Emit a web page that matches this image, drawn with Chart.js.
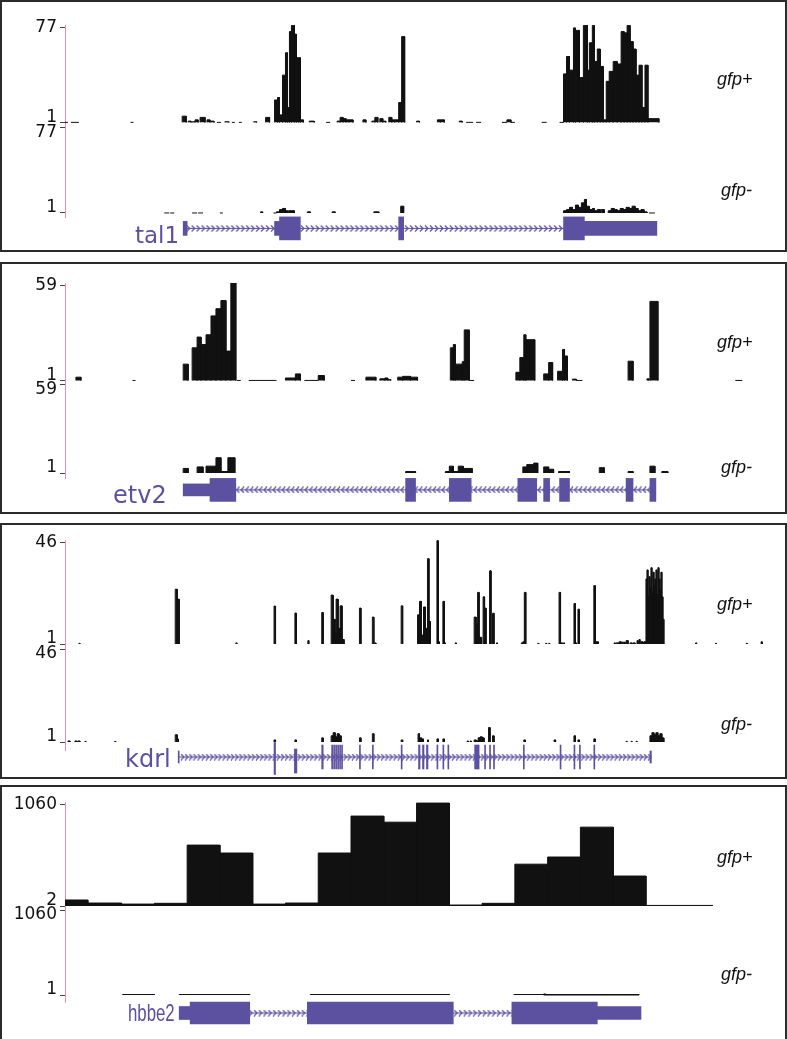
<!DOCTYPE html>
<html>
<head>
<meta charset="utf-8">
<script src="https://cdn.jsdelivr.net/npm/chart.js@4.4.1/dist/chart.umd.min.js"></script>
<style>
  body { margin: 0; width: 787px; height: 1039px; background: #fff; position: relative; overflow: hidden; font-family: "Liberation Sans", Arial, sans-serif; }
  .panel { position: absolute; left: 0; width: 787px; }
  .panel canvas { position: absolute; left: 0; top: 0; }
  .frame { position: absolute; left: 0; top: 0; width: 787px; height: 100%; box-sizing: border-box; border: 2px solid #2b2b2b; pointer-events: none; }
  .trk { position: absolute; font-style: italic; font-size: 18px; line-height: 18px; color: #111; }
  .gname { position: absolute; font-family: "DejaVu Sans"; line-height: 1; color: #5c50a0; white-space: nowrap; }
</style>
</head>
<body>
<script>
// positions are browser columns (x scale runs from the axis line to the right edge)
// coverage segments: [start, end, value]

// --- tal1 ---
const tal1Range = [1, 77];
const tal1Plus = [
  [63, 68, 1], [71, 79, 1], [131, 134, 1],
  [183, 187, 6], [189, 192, 2], [193, 196, 1.5], [196, 199, 3], [201, 206, 5], [208, 211, 3], [212, 215, 2],
  [218, 222, 1], [226, 230, 1.5], [233, 236, 1], [240, 243, 1], [255, 258, 1.5], [267, 271, 5],
  [276, 279, 19], [279, 281, 21], [281, 284, 7], [284, 287, 39], [287, 289, 57], [289, 291, 13], [291, 293, 74],
  [293, 296, 79], [296, 298, 72], [298, 300, 53], [300, 302, 53], [302, 305, 3],
  [311, 316, 2], [328, 332, 1], [339, 342, 2], [342, 345, 5], [345, 348, 4], [348, 351, 3], [351, 355, 3],
  [365, 368, 3], [374, 377, 2], [377, 380, 5], [382, 385, 4], [385, 388, 2], [391, 394, 5], [394, 397, 3],
  [397, 401, 3], [401, 404, 17], [404, 407, 70],
  [419, 422, 2], [440, 443, 3], [443, 447, 3], [462, 465, 2], [469, 476, 1], [479, 484, 1], [505, 510, 1],
  [510, 514, 3], [514, 518, 1], [545, 550, 1], [563, 567, 1],
  [567, 570, 40], [570, 573, 54], [573, 577, 43], [577, 579, 77], [579, 583, 75], [583, 587, 37], [587, 591, 79],
  [591, 593, 43], [593, 596, 65], [596, 598, 79], [598, 601, 50], [601, 604, 60], [604, 607, 46], [607, 610, 3],
  [610, 613, 34], [613, 617, 42], [617, 621, 50], [621, 625, 48], [625, 628, 74], [628, 631, 73], [631, 634, 79],
  [634, 637, 66], [637, 640, 60], [640, 643, 39], [643, 646, 47], [646, 649, 13], [649, 652, 47], [652, 663, 4]
];
const tal1Minus = [
  [165, 170, 1], [171, 175, 1], [193, 198, 1], [199, 204, 1], [221, 224, 1],
  [262, 264, 2], [275, 278, 1], [278, 281, 2], [281, 284, 4], [284, 287, 5], [287, 289, 3], [290, 293, 3],
  [293, 296, 3], [309, 312, 2], [334, 337, 2], [376, 381, 2], [403, 406, 7],
  [567, 570, 3], [570, 573, 4], [573, 576, 6], [576, 579, 4], [579, 582, 8], [582, 585, 6], [585, 588, 10],
  [588, 590, 13], [590, 593, 7], [593, 596, 4], [596, 598, 5], [598, 601, 3], [601, 604, 4], [605, 608, 4],
  [612, 615, 3], [615, 618, 5], [618, 621, 4], [621, 624, 3], [624, 627, 5], [627, 630, 4], [630, 633, 6],
  [633, 636, 5], [636, 639, 7], [639, 642, 5], [642, 645, 3], [645, 648, 4], [648, 651, 2], [653, 659, 1]
];
const tal1Cds = [[281, 302], [401, 406], [567, 588]];
const tal1Utr = [[184, 188], [276, 281], [588, 661]];
const tal1Span = [184, 661];

// --- etv2 ---
const etv2Range = [1, 59];
const etv2Plus = [
  [76, 81, 3], [133, 136, 1], [184, 189, 11], [193, 198, 21], [198, 202, 27.6], [202, 207, 23], [207, 212, 29],
  [212, 217, 40.6], [217, 222, 45], [222, 227, 50], [227, 232, 19], [232, 237, 61], [238, 242, 1],
  [250, 278, 1], [287, 297, 2.5], [297, 302, 5], [306, 320, 1], [320, 326, 4], [353, 357, 1], [368, 378, 3],
  [382, 387, 2], [387, 390, 2.5], [390, 393, 1.5], [400, 405, 3], [405, 413, 3.5], [413, 420, 3],
  [453, 456, 21], [456, 458, 23], [458, 465, 11], [465, 467, 12.5], [467, 472, 32], [472, 477, 1],
  [519, 523, 6], [523, 527, 15], [527, 529, 29], [529, 538, 26], [547, 552, 5], [552, 556, 12],
  [561, 566, 6.6], [566, 568, 20], [568, 571, 16], [576, 580, 1.8], [580, 586, 1], [632, 637, 12.8],
  [651, 653, 2], [654, 662, 49.5], [740, 747, 1]
];
const etv2Minus = [
  [184, 189, 4], [198, 204, 5], [207, 217, 5.5], [217, 222, 11], [222, 229, 2], [229, 236, 11],
  [408, 418, 2], [448, 452, 2], [452, 456, 5.5], [456, 461, 2], [461, 466, 5.5], [466, 475, 4],
  [526, 530, 5], [530, 537, 6.5], [537, 541, 7.5], [547, 552, 5], [552, 557, 3.5], [562, 573, 2],
  [603, 608, 4.5], [632, 637, 2], [654, 659, 5.5], [666, 672, 2]
];
const etv2Cds = [[211, 237], [408, 418], [452, 474], [521, 540], [547, 553], [563, 573], [630, 637], [654, 660]];
const etv2Utr = [[184, 211]];
const etv2Span = [184, 660];

// --- kdrl ---
const kdrlRange = [1, 46];
const kdrlPlus = [
  [79, 80, 1.3], [176, 178, 25.4], [178, 180, 21], [237, 238, 1.5],
  [275.5, 277, 17.9], [296.5, 298, 14.8], [309.5, 310.5, 2.5], [323.5, 325, 15], [333, 335, 22.8], [335, 337, 12],
  [337, 338, 6], [338, 340, 21], [340, 342, 8], [342, 344, 18], [344, 346, 3], [361.5, 363, 17], [374.5, 376, 13],
  [377, 378, 1.5], [403.5, 405, 18], [420, 422, 14], [422, 424, 20], [424, 426, 5], [426, 428, 17.5], [428, 430, 8],
  [430, 431.5, 39], [431.5, 433, 11], [439.5, 441, 47], [441, 442, 2], [445.5, 447, 20], [447, 448, 1.5],
  [458, 459, 1.5], [477, 479, 13], [479, 480.5, 10], [480.5, 482, 24], [482, 484.5, 4], [486, 487.5, 22],
  [487.5, 489, 17], [492.5, 494, 33.6], [495.5, 497, 14.7], [499.5, 500.5, 1.5], [524.5, 525.5, 1.5],
  [526, 527.5, 2], [527.5, 529, 24],
  [541, 542, 1.3], [549, 550, 1.3], [552, 553, 1.3], [562.5, 564, 24], [564, 566, 1.5], [567, 568, 1.5],
  [577.5, 579, 19], [579, 580, 1.5], [581.5, 583, 16.5], [597.5, 599, 27], [599, 602, 2], [618, 619, 1.5],
  [620, 623, 1.5], [623, 625, 2], [626, 629, 1.8], [630, 632, 2.5], [634, 636, 1.5], [637, 639, 1.5],
  [641, 642, 2.5], [643, 644, 3], [645, 647, 2], [648, 650, 2],
  [650, 651, 30], [651, 652, 34], [652, 653, 22], [653, 654, 31], [654, 655, 26], [655, 656, 35], [656, 657, 24],
  [657, 658, 33], [658, 659, 27], [659, 660, 30], [660, 661, 34], [661, 662, 23], [662, 663, 35], [663, 664, 30],
  [664, 665, 25], [665, 666, 33], [666, 667, 22], [667, 668, 12],
  [700, 701, 1.5], [720, 721, 1.3], [751, 752, 1.3], [766, 767, 2]
];
const kdrlMinus = [
  [68, 70, 1.5], [75, 77, 1.5], [78, 80, 1.5], [85, 86, 1.3], [115, 116, 1.3], [176, 178, 4.5], [178, 179, 2.5],
  [275.5, 277, 2], [296.5, 298, 2], [323.5, 325, 3], [333, 335, 4], [335, 337, 5.5], [337, 339, 3.5], [339, 341, 5],
  [341, 343, 4], [361.5, 363, 3], [374.5, 376, 5], [403.5, 405, 2], [420.5, 422, 5], [422, 424, 3], [424, 426, 2.5],
  [430, 431, 2], [439.5, 441, 2.5], [445.5, 447, 2.5], [470, 471, 1.5], [473, 474, 1.5], [477, 479, 2],
  [479, 481, 1.5], [481, 483, 3], [483, 485, 3.5], [485, 487, 3], [491.5, 493, 8], [495.5, 497, 4],
  [527, 528.5, 2], [557.5, 559, 2], [577.5, 579, 4], [581.5, 583, 2], [597.5, 599, 2.5], [630, 631, 1.3],
  [635, 636, 1.3], [640, 641, 1.3], [654, 656, 4], [656, 658, 5.5], [658, 660, 4.5], [660, 662, 5.5],
  [662, 664, 4], [664, 666, 5], [666, 668, 3]
];
const kdrlCds = [
  [323.5, 325], [333.5, 334.5], [335.5, 336.5], [337.5, 338.5], [339.5, 340.5], [341.5, 342.5], [343.5, 344.5],
  [361.5, 362.5], [374.5, 375.5], [403.5, 404.5], [421, 422.5], [425, 426.5], [429, 430.5], [439.5, 440.5],
  [445.5, 446.5], [450.5, 451.5], [477.5, 482], [487.5, 488.5], [492.5, 493.5], [496.5, 497.5], [526.5, 527.5],
  [563.5, 564.5], [577.5, 578.5], [583, 584], [597.5, 598.5]
];
const kdrlUtr = [[179, 180], [654, 655.5]];
const kdrlLong = [[275.5, 277]];
const kdrlLower = [[296, 298.5]];
const kdrlSpan = [179, 655];

// --- hbbe2 ---
const hbbe2PlusRange = [2, 1060];
const hbbe2MinusRange = [1, 1060];
const hbbe2Plus = [
  [61, 88, 65], [88, 122, 33], [122, 155, 22], [155, 188, 30], [188, 221, 640], [221, 254, 557],
  [254, 287, 22], [287, 320, 33], [320, 353, 557], [353, 386, 944], [386, 419, 880], [419, 452, 1080],
  [452, 485, 12], [485, 518, 30], [518, 551, 440], [551, 584, 515], [584, 617, 828], [617, 650, 316],
  [650, 717, 8]
];
const hbbe2Minus = [[123, 155, 7], [180, 251, 7], [312, 452, 7], [517, 643, 7], [547, 549, 14]];
const hbbe2Cds = [[191, 251], [309, 456], [515, 601]];
const hbbe2Utr = [[180, 191], [601, 645]];
const hbbe2Span = [180, 645];

const PURPLE = '#5c50a0';
const AXIS_X = 65;

const panels = [
  { name: 'tal1', plusRange: tal1Range, minusRange: tal1Range, plus: tal1Plus, minus: tal1Minus,
    cds: tal1Cds, utr: tal1Utr, span: tal1Span, strand: 1, step: 5,
    box: [0, 252], ticks: [28, 126, 131, 220], axisEnd: 225, mid: 236, cdsH: 23, utrH: 14,
    label: { x: 135, y: 224, size: 23 }, trk: [70, 181] },
  { name: 'etv2', plusRange: etv2Range, minusRange: etv2Range, plus: etv2Plus, minus: etv2Minus,
    cds: etv2Cds, utr: etv2Utr, span: etv2Span, strand: -1, step: 4.6,
    box: [262, 252], ticks: [286, 384, 388, 480], axisEnd: 486, mid: 497.5, cdsH: 23, utrH: 12,
    label: { x: 113, y: 483, size: 24 }, trk: [333, 458] },
  { name: 'kdrl', plusRange: kdrlRange, minusRange: kdrlRange, plus: kdrlPlus, minus: kdrlMinus,
    cds: kdrlCds, utr: kdrlUtr, span: kdrlSpan, strand: 1, step: 4.2,
    extra: [{ segs: kdrlLong, y: -3, h: 32 }, { segs: kdrlLower, y: -8, h: 24 }],
    box: [523, 256], ticks: [543, 644, 649, 742], axisEnd: 750, mid: 757, cdsH: 24, utrH: 12,
    label: { x: 125, y: 747, size: 24 }, trk: [595, 715] },
  { name: 'hbbe2', plusRange: hbbe2PlusRange, minusRange: hbbe2MinusRange, plus: hbbe2Plus, minus: hbbe2Minus,
    cds: hbbe2Cds, utr: hbbe2Utr, span: hbbe2Span, strand: 1, step: 4.8,
    box: [785, 260], ticks: [805, 906, 910, 995], axisEnd: 1002, mid: 1013, cdsH: 22, utrH: 13,
    label: { x: 128, y: 1001, size: 24, narrow: true }, trk: [848, 965] }
];

function steps(segs, base) {
  const pts = [];
  let last = null;
  segs.forEach(([s, e, v]) => {
    if (last !== null && s > last) pts.push({ x: (last + s) / 2, y: null });
    pts.push({ x: s, y: base }, { x: s, y: v }, { x: e, y: v }, { x: e, y: base });
    last = e;
  });
  return pts;
}

function chevron(dir) {
  const c = document.createElement('canvas');
  c.width = 5; c.height = 7;
  const g = c.getContext('2d');
  g.strokeStyle = PURPLE;
  g.lineWidth = 1.2;
  g.beginPath();
  if (dir > 0) { g.moveTo(1, 0.5); g.lineTo(4, 3.5); g.lineTo(1, 6.5); }
  else { g.moveTo(4, 0.5); g.lineTo(1, 3.5); g.lineTo(4, 6.5); }
  g.stroke();
  return c;
}

function exonBars(segs, y, h) {
  return {
    type: 'bar', indexAxis: 'y', xAxisID: 'x', yAxisID: 'yGene', grouped: false, clip: false,
    data: segs.map(([s, e]) => ({ x: [s, e], y: y })),
    backgroundColor: PURPLE, borderWidth: 0, barThickness: h
  };
}

function coverage(segs, base, axis) {
  return {
    type: 'line', yAxisID: axis, data: steps(segs, base),
    borderColor: '#111', backgroundColor: '#111', borderWidth: 1,
    pointRadius: 0, fill: { value: base }, tension: 0, spanGaps: false
  };
}

function yTrack(range, tickTop, tickBase, regTop, regBot, topLabel, baseLabel) {
  const [lo, hi] = range;
  const k = (tickBase - tickTop) / (hi - lo);
  return {
    type: 'linear', position: 'left', stack: 'tracks', stackWeight: regBot - regTop,
    min: lo - (regBot - tickBase) / k,
    max: hi + (tickTop - regTop) / k,
    afterBuildTicks: s => { s.ticks = [{ value: lo }, { value: hi }]; },
    afterFit: s => { s.width = AXIS_X; },
    ticks: {
      autoSkip: false, padding: 3, color: '#111',
      font: { family: 'DejaVu Sans', size: 17, lineHeight: '10px' },
      callback: v => (v === hi ? topLabel : baseLabel)
    },
    grid: { drawOnChartArea: false, tickLength: 5, color: '#444' },
    border: { color: '#dd93a6', width: 1 }
  };
}

panels.forEach(p => {
  const [boxTop, boxH] = p.box;
  const [pTop, pBase, mTop, mBase] = p.ticks;
  const areaTop = pTop - 3;
  const split = (pBase + mTop) / 2;
  const half = p.mid - p.axisEnd;
  const areaBottom = p.mid + half;

  const wrap = document.createElement('div');
  wrap.className = 'panel';
  wrap.style.top = boxTop + 'px';
  wrap.style.height = boxH + 'px';
  const canvas = document.createElement('canvas');
  canvas.width = 787; canvas.height = boxH;
  canvas.style.width = '787px'; canvas.style.height = boxH + 'px';
  wrap.appendChild(canvas);
  const frame = document.createElement('div');
  frame.className = 'frame';
  wrap.appendChild(frame);
  document.body.appendChild(wrap);

  const marks = [];
  for (let x = p.span[0] + p.step; x < p.span[1] - 1; x += p.step) marks.push({ x: x, y: 0 });

  const datasets = [
    exonBars(p.cds, 0, p.cdsH),
    exonBars(p.utr, 0, p.utrH)
  ];
  (p.extra || []).forEach(ex => datasets.push(exonBars(ex.segs, ex.y, ex.h)));
  datasets.push(
    {
      type: 'line', yAxisID: 'yGene', data: marks, showLine: false,
      pointStyle: chevron(p.strand), pointRadius: 3, clip: false
    },
    {
      type: 'line', yAxisID: 'yGene', data: [{ x: p.span[0], y: 0 }, { x: p.span[1], y: 0 }],
      borderColor: PURPLE, borderWidth: 1, pointRadius: 0, clip: false
    },
    coverage(p.plus, p.plusRange[0], 'yPlus'),
    coverage(p.minus, p.minusRange[0], 'yMinus')
  );

  new Chart(canvas, {
    type: 'line',
    data: { datasets },
    options: {
      responsive: false, animation: false, devicePixelRatio: 1, events: [],
      layout: { padding: { top: areaTop - boxTop, bottom: boxTop + boxH - areaBottom, left: 0, right: 0 } },
      plugins: { legend: { display: false }, tooltip: { enabled: false } },
      scales: {
        x: { type: 'linear', min: AXIS_X, max: 787, display: false },
        yGene: {
          type: 'linear', position: 'left', stack: 'tracks', stackWeight: 2 * half, min: -half, max: half,
          afterFit: s => { s.width = AXIS_X; },
          ticks: { display: false }, grid: { display: false }, border: { display: false }
        },
        yMinus: yTrack(p.minusRange, mTop, mBase, split, p.axisEnd,
          ['', String(p.minusRange[1])], [String(p.minusRange[0]), '']),
        yPlus: yTrack(p.plusRange, pTop, pBase, areaTop, split,
          [String(p.plusRange[1])], [String(p.plusRange[0]), ''])
      }
    }
  });

  const plusLbl = document.createElement('div');
  plusLbl.className = 'trk';
  plusLbl.textContent = 'gfp+';
  plusLbl.style.left = '717px';
  plusLbl.style.top = p.trk[0] + 'px';
  document.body.appendChild(plusLbl);
  const minusLbl = document.createElement('div');
  minusLbl.className = 'trk';
  minusLbl.textContent = 'gfp-';
  minusLbl.style.left = '721px';
  minusLbl.style.top = p.trk[1] + 'px';
  document.body.appendChild(minusLbl);

  const g = document.createElement('div');
  g.className = 'gname';
  g.textContent = p.name;
  g.style.left = p.label.x + 'px';
  g.style.top = p.label.y + 'px';
  g.style.fontSize = p.label.size + 'px';
  if (p.label.narrow) {
    g.style.fontFamily = '"Liberation Sans", Arial, sans-serif';
    g.style.transform = 'scaleX(0.7)';
    g.style.transformOrigin = 'left top';
  }
  document.body.appendChild(g);
});
</script>
</body>
</html>
